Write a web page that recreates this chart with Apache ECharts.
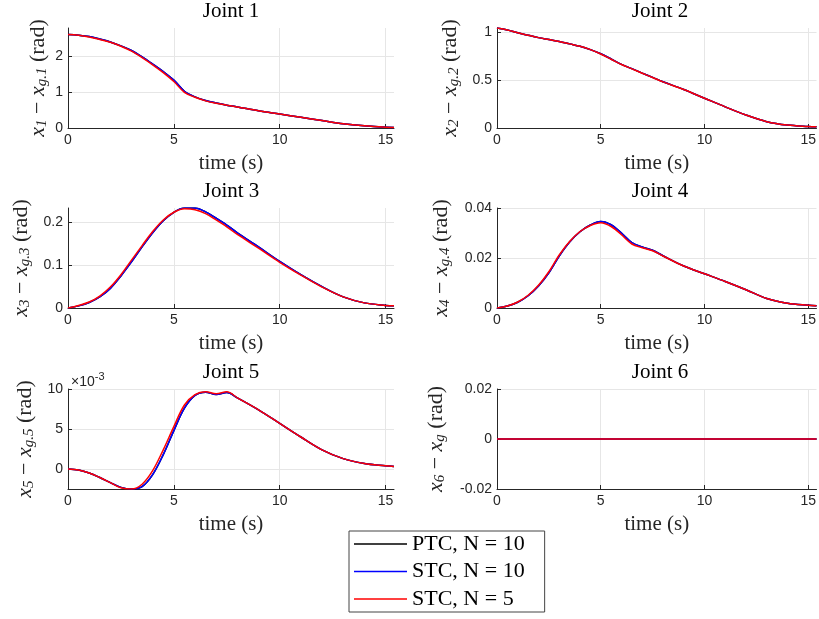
<!DOCTYPE html>
<html>
<head>
<meta charset="utf-8">
<script src="https://cdn.jsdelivr.net/npm/echarts@6/dist/echarts.min.js"></script>
<style>
  html, body { margin: 0; padding: 0; background: #fff; }
  #chart { width: 819px; height: 619px; }
</style>
</head>
<body>
<div id="chart"></div>
<script>
// time samples (s)
const time = [0, 0.5, 1, 1.5, 2, 2.5, 3, 3.5, 4, 4.5, 5, 5.5, 6, 6.5, 7, 7.5, 8, 9, 10, 11, 12, 13, 14, 15, 15.4]
const time6 = [0, 15.4]

const seriesNames = ['PTC, N = 10', 'STC, N = 10', 'STC, N = 5']

// joint 1
const j1Ptc   = [2.62, 2.60, 2.56, 2.49, 2.41, 2.30, 2.17, 1.99, 1.79, 1.58, 1.34, 1.03, 0.87, 0.77, 0.70, 0.64, 0.59, 0.48, 0.39, 0.30, 0.21, 0.12, 0.06, 0.02, 0.015]
const j1Stc10 = [2.62, 2.60, 2.56, 2.49, 2.41, 2.30, 2.17, 1.99, 1.79, 1.58, 1.34, 1.03, 0.87, 0.77, 0.70, 0.64, 0.59, 0.48, 0.39, 0.30, 0.21, 0.12, 0.06, 0.02, 0.015]
const j1Stc5  = [2.62, 2.60, 2.55, 2.48, 2.40, 2.29, 2.15, 1.97, 1.77, 1.55, 1.30, 1.00, 0.86, 0.76, 0.69, 0.64, 0.59, 0.48, 0.39, 0.30, 0.21, 0.12, 0.06, 0.02, 0.012]

// joint 2
const j2Ptc   = [1.04, 1.02, 0.99, 0.965, 0.94, 0.92, 0.90, 0.875, 0.85, 0.815, 0.772, 0.718, 0.662, 0.617, 0.571, 0.526, 0.481, 0.40, 0.31, 0.22, 0.135, 0.066, 0.03, 0.015, 0.012]
const j2Stc10 = [1.04, 1.02, 0.99, 0.965, 0.94, 0.92, 0.90, 0.875, 0.85, 0.815, 0.772, 0.718, 0.662, 0.617, 0.571, 0.526, 0.481, 0.40, 0.31, 0.22, 0.135, 0.066, 0.03, 0.015, 0.012]
const j2Stc5  = [1.04, 1.02, 0.99, 0.965, 0.94, 0.92, 0.90, 0.875, 0.85, 0.815, 0.77, 0.715, 0.66, 0.615, 0.57, 0.525, 0.48, 0.40, 0.31, 0.22, 0.135, 0.066, 0.03, 0.015, 0.012]

// joint 3
const j3Ptc   = [0, 0.005, 0.013, 0.026, 0.046, 0.075, 0.108, 0.143, 0.176, 0.204, 0.224, 0.234, 0.234, 0.225, 0.210, 0.194, 0.176, 0.143, 0.109, 0.078, 0.050, 0.026, 0.012, 0.006, 0.005]
const j3Stc10 = [0, 0.005, 0.013, 0.026, 0.046, 0.075, 0.108, 0.143, 0.176, 0.204, 0.224, 0.234, 0.234, 0.225, 0.210, 0.194, 0.176, 0.143, 0.109, 0.078, 0.050, 0.026, 0.012, 0.006, 0.005]
const j3Stc5  = [0, 0.006, 0.014, 0.028, 0.049, 0.078, 0.112, 0.146, 0.179, 0.206, 0.224, 0.232, 0.230, 0.221, 0.206, 0.190, 0.172, 0.140, 0.107, 0.077, 0.049, 0.026, 0.012, 0.006, 0.005]

// joint 4
const j4Ptc   = [0, 0.0008, 0.0023, 0.0049, 0.0088, 0.0141, 0.0208, 0.0264, 0.0305, 0.0332, 0.0346, 0.0333, 0.0300, 0.0262, 0.0244, 0.0231, 0.0209, 0.0168, 0.0137, 0.0106, 0.0073, 0.0038, 0.0019, 0.0011, 0.0009]
const j4Stc10 = [0, 0.0008, 0.0023, 0.0049, 0.0088, 0.0141, 0.0208, 0.0264, 0.0305, 0.0332, 0.0346, 0.0333, 0.0300, 0.0262, 0.0244, 0.0231, 0.0209, 0.0168, 0.0137, 0.0106, 0.0073, 0.0038, 0.0019, 0.0011, 0.0009]
const j4Stc5  = [0, 0.0008, 0.0024, 0.0051, 0.0091, 0.0145, 0.0212, 0.0266, 0.0306, 0.0330, 0.0341, 0.0326, 0.0293, 0.0256, 0.0241, 0.0229, 0.0208, 0.0168, 0.0137, 0.0106, 0.0073, 0.0038, 0.0019, 0.0011, 0.0009]

// joint 5 (x 10^-3)
const j5Ptc   = [0, -0.13, -0.5, -1.06, -1.7, -2.3, -2.5, -2.2, -0.7, 1.8, 4.8, 7.6, 9.2, 9.6, 9.3, 9.55, 8.9, 7.4, 5.7, 4.0, 2.4, 1.3, 0.7, 0.4, 0.3]
const j5Stc10 = [0, -0.13, -0.5, -1.06, -1.7, -2.3, -2.5, -2.2, -0.7, 1.8, 4.8, 7.6, 9.2, 9.6, 9.3, 9.55, 8.9, 7.4, 5.7, 4.0, 2.4, 1.3, 0.7, 0.4, 0.3]
const j5Stc5  = [0, -0.13, -0.5, -1.06, -1.7, -2.35, -2.5, -1.9, -0.2, 2.4, 5.3, 8.0, 9.3, 9.65, 9.4, 9.65, 8.9, 7.4, 5.7, 4.0, 2.4, 1.3, 0.7, 0.4, 0.3]

// joint 6
const j6Ptc   = [0, 0]
const j6Stc10 = [0, 0]
const j6Stc5  = [0, 0]

// tick labels
const xTicks = [0, 5, 10, 15]
const j1Ticks = [0, 1, 2]
const j2Ticks = [0, 0.5, 1]
const j3Ticks = [0, 0.1, 0.2]
const j4Ticks = [0, 0.02, 0.04]
const j5Ticks = [0, 5, 10]
const j6Ticks = [-0.02, 0, 0.02]

const colors = ['#000000', '#0000ff', '#ff0000']
const serif = 'Liberation Serif'
const sans = 'Liberation Sans'
const ink = '#262626'

const panels = [
  { title: 'Joint 1', left: 68,  top: 28,  min: 0,     max: 2.8,   ticks: j1Ticks, sub: '1',  gap: 18, x: time,  data: [j1Ptc, j1Stc10, j1Stc5] },
  { title: 'Joint 2', left: 497, top: 28,  min: 0,     max: 1.04,  ticks: j2Ticks, sub: '2',  gap: 35, x: time,  data: [j2Ptc, j2Stc10, j2Stc5] },
  { title: 'Joint 3', left: 68,  top: 208, min: 0,     max: 0.234, ticks: j3Ticks, sub: '3',  gap: 35, x: time,  data: [j3Ptc, j3Stc10, j3Stc5] },
  { title: 'Joint 4', left: 497, top: 208, min: 0,     max: 0.04,  ticks: j4Ticks, sub: '4',  gap: 44, x: time,  data: [j4Ptc, j4Stc10, j4Stc5] },
  { title: 'Joint 5', left: 68,  top: 389, min: -2.5,  max: 10,    ticks: j5Ticks, sub: '5',  gap: 31, x: time,  data: [j5Ptc, j5Stc10, j5Stc5] },
  { title: 'Joint 6', left: 497, top: 389, min: -0.02, max: 0.02,  ticks: j6Ticks, sub: null, gap: 49, x: time6, data: [j6Ptc, j6Stc10, j6Stc5] }
]
const W = 326, H = 100

const grid = [], xAxis = [], yAxis = [], series = [], graphic = []

panels.forEach((p, i) => {
  grid.push({ left: p.left, top: p.top, width: W, height: H })

  xAxis.push({
    type: 'value', gridIndex: i, min: 0, max: 15.4,
    name: 'time (s)', nameLocation: 'middle', nameGap: 25,
    nameTextStyle: { fontFamily: serif, fontSize: 21, color: ink },
    axisLine: { onZero: false, lineStyle: { color: ink, width: 1 } },
    axisTick: { show: true, inside: true, length: 4, customValues: xTicks, lineStyle: { color: ink } },
    axisLabel: { color: ink, fontFamily: sans, fontSize: 14, margin: 5, customValues: xTicks },
    splitLine: { show: true, lineStyle: { color: '#e6e6e6' } }
  })

  const yName = p.sub
    ? '{i|x}{s|' + p.sub + '}{n| − }{i|x}{s|g.' + p.sub + '}{n| (rad)}'
    : '{i|x}{s|6}{n| − }{i|x}{s|g}{n| (rad)}'

  yAxis.push({
    type: 'value', gridIndex: i, min: p.min, max: p.max,
    name: yName, nameLocation: 'middle', nameGap: p.gap, nameRotate: 90,
    nameTextStyle: {
      color: ink,
      rich: {
        i: { fontFamily: serif, fontStyle: 'italic', fontSize: 22, color: ink, lineHeight: 24 },
        s: { fontFamily: serif, fontStyle: 'italic', fontSize: 15, color: ink, verticalAlign: 'bottom', lineHeight: 24 },
        n: { fontFamily: serif, fontSize: 22, color: ink, lineHeight: 24 }
      }
    },
    axisLine: { show: true, onZero: false, lineStyle: { color: ink, width: 1 } },
    axisTick: { show: true, inside: true, length: 4, customValues: p.ticks, lineStyle: { color: ink } },
    axisLabel: { color: ink, fontFamily: sans, fontSize: 14, margin: 5, customValues: p.ticks },
    splitLine: { show: true, lineStyle: { color: '#e6e6e6' } }
  })

  p.data.forEach((vals, k) => {
    series.push({
      name: seriesNames[k], type: 'line', xAxisIndex: i, yAxisIndex: i,
      data: p.x.map((t, j) => [t, vals[j]]),
      smooth: 0.35, symbol: 'none', showSymbol: false,
      lineStyle: { color: colors[k], width: 1.5 }, itemStyle: { color: colors[k] },
      z: 2 + k
    })
  })

  graphic.push({
    type: 'text', x: p.left + W / 2, y: p.top - 17,
    style: { text: p.title, fontFamily: serif, fontSize: 21, fill: '#000', textAlign: 'center', textVerticalAlign: 'middle' }
  })
})

// exponent label for Joint 5
graphic.push({
  type: 'text', x: 71, y: 371,
  style: {
    text: '{a|×10}{b|-3}', fill: ink,
    rich: {
      a: { fontFamily: sans, fontSize: 14, fill: ink, lineHeight: 18, verticalAlign: 'bottom' },
      b: { fontFamily: sans, fontSize: 11, fill: ink, lineHeight: 18, verticalAlign: 'top' }
    }
  }
})

const chart = echarts.init(document.getElementById('chart'))
chart.setOption({
  animation: false,
  backgroundColor: '#fff',
  grid, xAxis, yAxis, series, graphic,
  legend: {
    data: seriesNames,
    icon: 'rect',
    orient: 'vertical', left: 349, top: 531,
    backgroundColor: '#fff', borderColor: '#444', borderWidth: 1,
    padding: [2, 20, 2, 5], itemGap: 5.5, itemWidth: 53, itemHeight: 1.5,
    textStyle: { fontFamily: serif, fontSize: 22, color: '#000', lineHeight: 22 }
  }
})
</script>
</body>
</html>
